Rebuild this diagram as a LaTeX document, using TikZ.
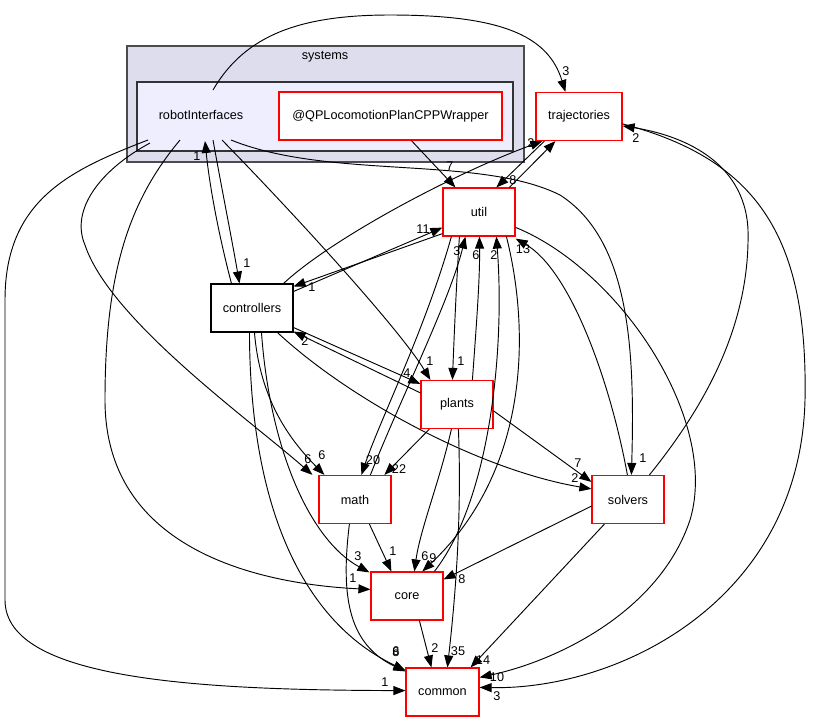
\documentclass[tikz,border=0pt]{standalone}
\usepackage{fontspec}
\setmainfont{Liberation Sans}
\usetikzlibrary{calc,arrows.meta}
\begin{document}
\begin{tikzpicture}[x=0.75pt,y=-0.75pt,
  every node/.style={font=\fontsize{9.5}{11}\selectfont},
  redbox/.style={draw=red,fill=white,line width=0.9pt,inner sep=0pt,minimum height=36pt},
  blackbox/.style={draw=black,fill=white,line width=0.8pt,inner sep=0pt,minimum height=36pt},
  dep/.style={draw=black,line width=0.7pt,-{Triangle[length=9pt,width=6.75pt]}},
  lbl/.style={inner sep=0pt}]
\useasboundingbox (0,0) rectangle (813,722);
% clusters
\node[draw=black!70,fill={rgb,255:red,221;green,221;blue,238},line width=0.9pt,minimum width=297.75pt,minimum height=87pt,inner sep=0pt] (systems) at (325.5,104) {};
\node (systemslbl) at (325,57) {systems};
\node[draw=black!80,fill={rgb,255:red,238;green,238;blue,255},line width=0.9pt,minimum width=282pt,minimum height=51.75pt,inner sep=0pt] (ricluster) at (325,116.5) {};
\node (ri) at (201,115) {robotInterfaces};
% nodes
\node[redbox,minimum width=167.25pt] (qp) at (390.5,116) {@QPLocomotionPlanCPPWrapper};
\node[redbox,minimum width=64.5pt] (traj) at (579,116.5) {trajectories};
\node[redbox,minimum width=54pt] (util) at (479,212) {util};
\node[blackbox,minimum width=61.5pt] (ctrl) at (252,308) {controllers};
\node[redbox,minimum width=54pt] (plants) at (457,404.5) {plants};
\node[redbox,minimum width=54pt] (math) at (355,499.5) {math};
\node[redbox,minimum width=54pt] (solvers) at (628,499.5) {solvers};
\node[redbox,minimum width=54pt] (core) at (407,596) {core};
\node[redbox,minimum width=54.75pt] (common) at (442.5,692) {common};

% robotInterfaces edges
\draw[dep] ($(ri)+(12,-25)$) .. controls (245,35) and (300,15) .. (390,15) .. controls (500,15) and (548,35) .. ($(traj.north west)+(30,0)$);
\draw[dep] ($(ri)+(-53,25)$) .. controls (70,170) and (5,200) .. (5,300) -- (5,600) .. controls (5,680) and (200,690) .. ($(common.south west)+(0,-26)$);
\draw[dep] ($(ri)+(-51,28)$) .. controls (100,170) and (70,210) .. (85,245) .. controls (110,320) and (250,420) .. ($(math.north west)+(-6,0)$);
\draw[dep] ($(ri)+(-21,25)$) .. controls (130,200) and (105,270) .. (105,400) .. controls (105,560) and (280,585) .. ($(core.north west)+(0,18)$);
\draw[dep] ($(ri)+(12,25)$) .. controls (222,190) and (232,240) .. ($(ctrl.north west)+(29,0)$);
\draw[dep] ($(ctrl.north west)+(21,0)$) .. controls (220,240) and (210,190) .. ($(ri)+(4,26)$);
\draw[dep] ($(ri)+(21,25)$) .. controls (300,220) and (400,330) .. ($(plants.north west)+(10,0)$);
\draw[dep] ($(ri)+(30,25)$) .. controls (330,180) and (480,155) .. (560,195) .. controls (630,240) and (635,350) .. ($(solvers.north west)+(40,0)$);
% others
\draw[dep] ($(qp.south west)+(133,0)$) -- ($(util.north west)+(13,0)$);
\draw[dep] ($(traj.south west)+(9,0)$) -- ($(util.north west)+(54,0)$);
\draw[dep] ($(util.north west)+(67,0)$) -- ($(traj.south west)+(20,0)$);
\draw[dep] ($(ctrl.north east)+(-10,0)$) .. controls (330,240) and (450,175) .. ($(traj.south west)+(7,0)$);
\draw[dep] ($(ctrl.north east)+(0,8)$) -- ($(util.south west)+(0,-9)$);
\draw[dep] ($(util.south west)+(0,-3)$) -- ($(ctrl.north east)+(0,3)$);
\draw[dep] ($(ctrl.south east)+(0,-5)$) -- ($(plants.north west)+(0,4)$);
\draw[dep] ($(plants.north west)+(0,13)$) -- ($(ctrl.south east)+(0,-1)$);
\draw[dep] ($(ctrl.south west)+(44,0)$) .. controls (260,400) and (290,440) .. ($(math.north west)+(6,0)$);
\draw[dep] ($(ctrl.south west)+(51,0)$) .. controls (270,450) and (310,540) .. ($(core.north west)+(-1,1)$);
\draw[dep] ($(ctrl.south west)+(39,0)$) .. controls (250,520) and (310,625) .. ($(common.north west)+(0,3)$);
\draw[dep] ($(ctrl.south west)+(67,0)$) .. controls (350,400) and (480,470) .. ($(solvers.north west)+(0,14)$);
\draw[dep] ($(util.south west)+(9,0)$) .. controls (425,330) and (380,420) .. ($(math.north west)+(43,0)$);
\draw[dep] ($(math.north west)+(52,0)$) .. controls (400,400) and (450,300) .. ($(util.south west)+(23,0)$);
\draw[dep] ($(plants.south west)+(9,0)$) -- ($(math.north west)+(66,0)$);
\draw[dep] ($(util.south west)+(17,0)$) .. controls (456,290) and (454,340) .. ($(plants.north west)+(32,0)$);
\draw[dep] ($(plants.north west)+(52,0)$) .. controls (476,330) and (480,280) .. ($(util.south west)+(37,0)$);
\draw[dep] ($(util.south west)+(64,0)$) .. controls (530,330) and (530,470) .. ($(core.north west)+(52,0)$);
\draw[dep] ($(core.north west)+(64,0)$) .. controls (490,500) and (505,350) .. ($(util.south west)+(54,0)$);
\draw[dep] ($(plants.south west)+(31,0)$) .. controls (440,480) and (420,530) .. ($(core.north west)+(44,0)$);
\draw[dep] ($(plants.north east)+(0,31)$) -- ($(solvers.north west)+(0,7)$);
\draw[dep] ($(plants.south west)+(38,0)$) .. controls (462,520) and (455,600) .. ($(common.north west)+(42,0)$);
\draw[dep] ($(math.south west)+(51,0)$) -- ($(core.north west)+(21,0)$);
\draw[dep] ($(math.south west)+(31,0)$) .. controls (340,600) and (350,645) .. ($(common.north west)+(0,4)$);
\draw[dep] ($(solvers.north west)+(36,0)$) .. controls (610,380) and (570,270) .. ($(util.south east)+(0,2)$);
\draw[dep] ($(solvers.north west)+(58,0)$) .. controls (710,400) and (750,320) .. (748,230) .. controls (745,160) and (680,135) .. ($(traj.north east)+(0,34)$);
\draw[dep] ($(solvers.south west)+(0,-18)$) -- ($(core.north east)+(0,8)$);
\draw[dep] ($(solvers.south west)+(13,0)$) -- ($(common.north east)+(-9,0)$);
\draw[dep] ($(util.north east)+(0,40)$) .. controls (620,270) and (720,420) .. (690,520) .. controls (660,610) and (560,660) .. ($(common.north east)+(0,10)$);
\draw[dep] ($(traj.north east)+(0,32)$) .. controls (760,160) and (808,240) .. (805,400) .. controls (800,600) and (620,690) .. ($(common.north east)+(0,20)$);
\draw[dep] ($(core.south west)+(49,0)$) -- ($(common.north west)+(26,0)$);

% labels
\node[lbl] (l1) at (566,71) {3};
\node[lbl] (l2) at (385,682) {1};
\node[lbl] (l3) at (308,459) {6};
\node[lbl] (l4) at (353,578) {1};
\node[lbl] (l5) at (247,263) {1};
\node[lbl] (l6) at (197,156) {1};
\node[lbl] (l7) at (430,361) {1};
\node[lbl] (l8) at (643,458) {1};
\node[lbl] (l9) at (450,166) {7};
\node[lbl] (l10) at (513,180) {8};
\node[lbl] (l11) at (531,143) {2};
\node[lbl] (l12) at (423,229) {11};
\node[lbl] (l13) at (312,287) {1};
\node[lbl] (l14) at (407,373) {4};
\node[lbl] (l15) at (305,341) {2};
\node[lbl] (l16) at (322,455) {6};
\node[lbl] (l17) at (358,556) {3};
\node[lbl] (l18) at (396,651) {6};
\node[lbl] (l19) at (396,652) {8};
\node[lbl] (l20) at (575,478) {2};
\node[lbl] (l21) at (373,460) {20};
\node[lbl] (l22) at (399,469) {22};
\node[lbl] (l23) at (461,361) {1};
\node[lbl] (l24) at (476,255) {6};
\node[lbl] (l25) at (457,251) {3};
\node[lbl] (l26) at (494,255) {2};
\node[lbl] (l27) at (523,249) {13};
\node[lbl] (l28) at (425,556) {6};
\node[lbl] (l29) at (433,558) {9};
\node[lbl] (l30) at (578,463) {7};
\node[lbl] (l31) at (458,651) {35};
\node[lbl] (l32) at (393,551) {1};
\node[lbl] (l33) at (636,138) {2};
\node[lbl] (l34) at (462,579) {8};
\node[lbl] (l35) at (483,660) {14};
\node[lbl] (l36) at (497,677) {10};
\node[lbl] (l37) at (497,696) {3};
\node[lbl] (l38) at (435,648) {2};
\end{tikzpicture}
\end{document}
